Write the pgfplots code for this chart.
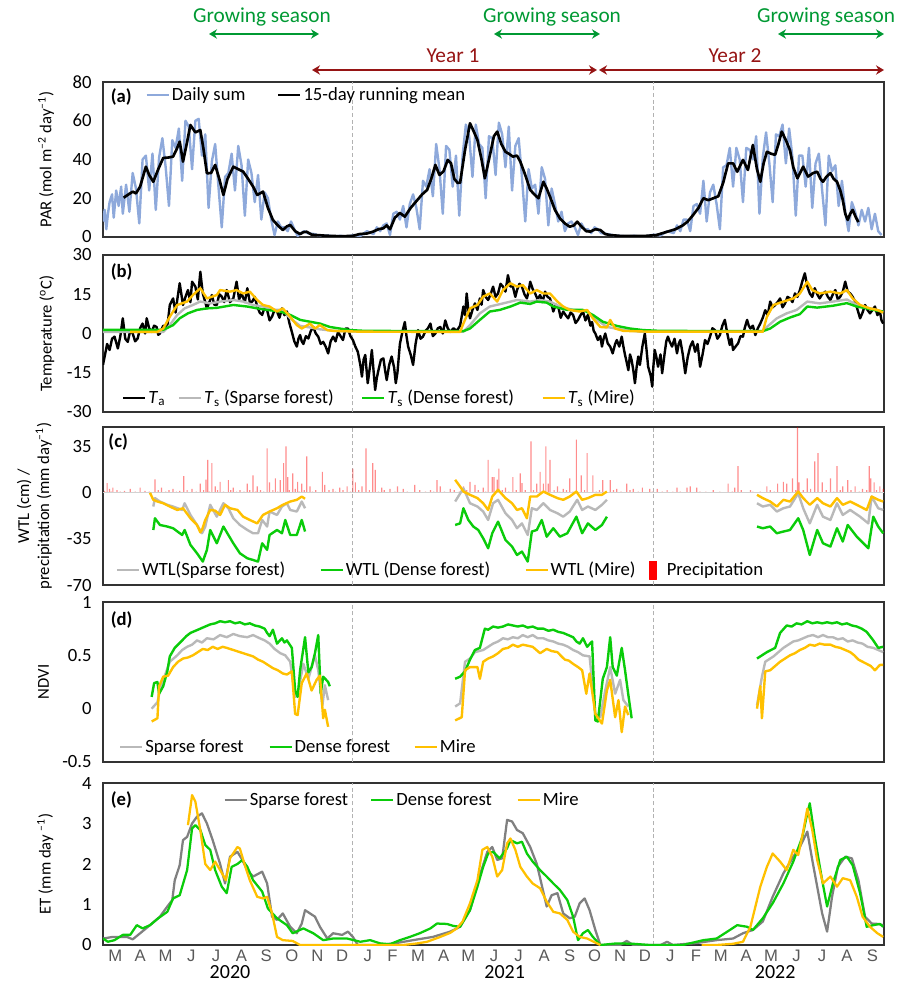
\documentclass[border=0pt]{standalone}
\usepackage{fontspec}
\setmainfont{Carlito}
\newfontfamily\arialfont{Liberation Sans}
\usepackage{pgfplots}
\pgfplotsset{compat=1.18}
\usetikzlibrary{arrows.meta}
\definecolor{parblue}{RGB}{142,169,219}
\definecolor{sparse}{RGB}{185,185,185}
\definecolor{sparsedark}{RGB}{128,128,128}
\definecolor{dense}{RGB}{10,204,10}
\definecolor{mire}{RGB}{255,192,0}
\definecolor{gsgreen}{RGB}{0,153,51}
\definecolor{yrred}{RGB}{150,20,20}
\definecolor{monthgray}{RGB}{89,89,89}
\newcommand{\gap}[1]{\rule{#1}{0pt}}
\tikzset{plabel/.style={font=\bfseries\fontsize{14}{16}\selectfont, anchor=west}}
\pgfplotsset{
  base/.style={
    scale only axis, width=585.75pt, xmin=64, xmax=1011,
    axis line style={black!80, line width=0.8pt},
    tick style={draw=none},
    xtick=\empty,
    unbounded coords=jump,
    yticklabel style={font=\fontsize{14}{16}\selectfont, xshift=-5pt},
    ylabel style={font=\fontsize{12.5}{15}\selectfont, anchor=center, align=center},
    legend style={draw=none, fill=none, legend columns=-1, font=\fontsize{14}{16}\selectfont,
      inner sep=0pt, nodes={inner sep=1.5pt}, anchor=west},
    legend image code/.code={\draw[##1] (0pt,0pt) -- (16.5pt,0pt);},
    every axis plot/.append style={line join=round},
  },
}
\begin{document}
\begin{tikzpicture}
\path[use as bounding box] (-77.25pt,61.5pt) rectangle (606.75pt,-676.5pt);

%% (a) PAR
\begin{axis}[base, at={(0pt,0pt)}, anchor=north west, height=116.25pt,
  ymin=0, ymax=80, ytick={0,20,40,60,80}, yticklabels={0,20,40,60,80},
  ylabel={PAR (mol m\textsuperscript{–2} day\textsuperscript{–1})},
  ylabel style={at={(axis description cs:-0.073,0.5)}},
  legend style={at={(axis description cs:0.054,0.916)}}]
\addplot[forget plot, densely dashed, gray!60, line width=0.5pt] coordinates {(366,0) (366,80)};
\addplot[forget plot, densely dashed, gray!60, line width=0.5pt] coordinates {(731,0) (731,80)};
\addplot[parblue, line width=1.8pt] coordinates {
(64,8)(66,14)(68,4)(70,12)(72,18)(75,22)(77,10)(80,24)(83,16)(86,26)(88,12)(92,27)(96,13)(100,33)(104,25)(108,7)
(112,40)(116,42)(120,24)(124,43)(128,14)(132,41)(136,51)(140,36)(144,16)(148,50)(152,46)(156,56)(160,29)(164,60)
(168,57)(172,35)(176,60)(180,61)(184,42)(188,53)(192,15)(196,39)(200,48)(204,26)(208,5)(212,31)(216,33)(220,43)
(224,24)(228,47)(232,37)(236,11)(240,40)(244,33)(248,18)(252,32)(256,9)(260,23)(264,20)(268,9)(272,1)(276,8)
(280,5)(284,5)(288,3)(292,8)(296,4)(300,0.5)(304,2)(308,3)(312,2)(320,1.5)(328,0.5)(336,0.8)(344,0.3)(352,0.6)
(360,0.2)(368,1)(376,0.5)(384,3)(392,1.5)(396,5)(400,3)(404,6)(408,7)(412,1)(416,12)(420,13)(424,9)(428,16)
(432,5)(436,17)(440,22)(444,15)(448,4)(452,29)(456,26)(460,35)(464,21)(468,48)(472,35)(476,12)(480,47)(484,45)
(488,26)(492,42)(496,11)(500,42)(504,58)(508,52)(512,31)(516,58)(520,48)(524,46)(528,20)(532,52)(536,51)(540,32)
(544,59)(548,53)(552,36)(556,57)(560,24)(564,47)(568,51)(572,31)(576,8)(580,35)(584,25)(588,27)(592,12)(596,36)
(600,30)(604,6)(608,25)(612,17)(616,8)(620,13)(624,3)(628,7)(632,8)(636,5)(640,1)(644,7)(648,4)(652,4)(656,2)
(660,5)(664,4)(668,2)(676,1.5)(684,0.8)(692,0.5)(700,0.3)(708,0.6)(716,0.2)(724,0.5)(732,1.2)(740,0.8)(748,3)
(756,2)(760,6)(764,3)(768,9)(772,9)(776,3)(780,16)(784,17)(788,12)(792,29)(796,8)(800,23)(804,27)(808,17)(812,4)
(816,36)(820,37)(824,46)(828,26)(832,46)(836,40)(840,18)(844,46)(848,45)(852,40)(856,52)(860,12)(864,41)(868,54)
(872,38)(876,18)(880,53)(884,52)(888,58)(892,38)(896,56)(900,41)(904,11)(908,42)(912,42)(916,26)(920,46)(924,15)
(928,38)(932,43)(936,24)(940,6)(944,42)(948,34)(952,37)(956,16)(960,29)(964,13)(968,3)(972,18)(976,13)(980,6)
(984,14)(988,8)(992,15)(996,4)(1000,12)(1004,3)(1008,1)};
\addlegendentry{Daily sum\gap{22pt}}
\addplot[black, line width=2pt] coordinates {
(89,20.3)(95,22)(100,23.4)(104,22.5)(109,26)(116,36.3)(120,32)(125,28.5)(131,35)(137,40.8)(143,41)(149,41.5)
(153,45)(157,49.2)(161,38.9)(165,47)(170,57.8)(176,54)(182,55.2)(186,45)(190,32.9)(195,33)(200,37.2)(205,30)
(210,21.7)(215,30)(222,36.3)(228,35)(234,33.7)(240,30)(246,26)(251,21.7)(258,23.4)(264,15)(270,8.8)(276,6)
(282,3.6)(287,5.5)(291,6.2)(297,3)(303,1.5)(307,2.5)(311,2.7)(317,1.2)(323,1)(333,0.7)(343,0.5)(355,0.4)
(367,0.6)(375,1.5)(384,1.8)(391,2.7)(398,4)(404,4.5)(408,6)(412,4)(418,10)(424,12.4)(430,10.5)(437,15)(445,19)
(451,22)(457,24.3)(462,30)(467,37.2)(472,32)(477,34)(482,39.8)(486,38)(490,30)(494,27.9)(497,28)(503,45)
(509,58.7)(513,55)(518,50.1)(523,40)(527,30.3)(533,42)(538,52)(542,54.4)(547,48)(552,44)(556,43)(561,41.5)
(566,42)(570,38.9)(576,32)(582,24.3)(587,22)(592,20)(598,28.5)(602,25)(606,20.8)(612,14)(618,9.6)(624,7)
(630,5.3)(635,6)(639,7.9)(645,5)(650,3)(655,2.8)(661,4)(667,3.6)(673,1.5)(679,1)(690,0.6)(706,0.5)(720,0.5)
(735,1)(748,2.7)(758,4)(767,6)(773,8)(780,11.6)(786,15)(792,20)(798,19)(804,20)(810,21)(816,28)(822,38)
(828,38)(833,33.7)(840,39.8)(846,34.6)(852,47.5)(857,35)(861,28.5)(865,38)(869,44)(874,43)(879,42.4)(883,48)
(887,54.4)(892,50)(897,44.8)(901,36)(906,30.3)(913,36.3)(919,31.2)(925,33)(930,33.7)(934,30)(937,28.5)(941,31)
(946,33)(950,30)(954,28.5)(958,24)(961,19.1)(964,12)(967,8.8)(970,12)(973,14)(977,10)(980,7.7)};
\addlegendentry{15-day running mean}
\node[plabel] at (rel axis cs:0.004,0.905) {(a)};
\end{axis}

%% (b) Temperature
\begin{axis}[base, at={(0pt,-129.75pt)}, anchor=north west, height=117.75pt,
  ymin=-30, ymax=30, ytick={-30,-15,0,15,30}, yticklabels={-30,-15,0,15,30},
  ylabel={Temperature (\textsuperscript{o}C)},
  ylabel style={at={(axis description cs:-0.072,0.5)}},
  legend style={at={(axis description cs:0.024,0.089)}}]
\addplot[forget plot, densely dashed, gray!60, line width=0.5pt] coordinates {(366,-30) (366,30)};
\addplot[forget plot, densely dashed, gray!60, line width=0.5pt] coordinates {(731,-30) (731,30)};
\addplot[black, line width=1.8pt] coordinates {
(64,-12)(69,-4)(72,-6.3)(75,-2)(78,-1.2)(82,-5.7)(85,-1)(88,5.8)(91,-2)(94,-3.2)(97,1)(100,0)(103,-3)(106,-1.9)
(109,2)(112,3.8)(115,0)(117,5.8)(120,2)(123,0.6)(126,3)(129,2.5)(131,-0.5)(133,0)(137,3)(142,2.5)(145,10.9)
(149,13.4)(152,8)(154,12.8)(157,19.2)(161,10.9)(164,14)(167,16.6)(170,12)(172,19.8)(176,17.9)(179,13)(182,23.6)
(185,15.3)(188,12)(190,9.6)(193,12)(196,14.7)(199,11)(202,10.9)(205,15)(208,14.1)(211,12)(214,16.6)(218,12)
(222,13.4)(226,19.8)(229,13)(232,15.3)(236,12)(239,17.3)(242,12)(245,12.2)(248,14)(251,10.3)(254,8)(257,7.1)
(260,10)(263,9)(266,5)(269,6.5)(272,9)(275,8.4)(278,6)(281,9.6)(284,7)(287,8.4)(290,4)(293,0.6)(296,-3)(299,-5)
(301,-2)(303,-0.6)(305,-3)(307,-4)(310,-1)(313,-1.9)(316,1)(319,2.5)(322,0)(325,-1.2)(328,-4)(331,-3.2)(334,-5)
(337,-7.6)(340,-3)(343,-1.2)(346,-3)(349,0.6)(352,-1)(355,-2.5)(358,1.9)(361,1.9)(364,-1)(367,-2.5)(370,-5)
(373,-7)(376,-12)(378,-16.5)(380,-10)(382,-8.2)(385,-19)(388,-12)(390,-6.3)(392,-14)(394,-21.6)(396,-17)
(398,-14)(401,-10)(404,-9.5)(406,-14)(408,-17.8)(411,-12)(414,-8.8)(417,-13)(419,-19)(421,-15)(424,-4)(427,0.6)
(430,4.4)(432,-1)(434,-5)(437,-8)(440,-12)(443,-4)(446,1.3)(449,-2)(452,-1.2)(455,1)(458,2)(461,3.8)(464,-1)
(467,0)(470,2)(473,2.5)(476,0)(479,5)(482,2)(485,0.6)(489,2)(493,1)(497,3)(501,10.3)(503,7)(505,15.3)(507,9)
(509,5.8)(512,9)(515,11.5)(518,9)(521,13.4)(523,11)(525,16.6)(528,14)(531,12.8)(534,15)(537,17.9)(540,14)
(543,15.3)(546,19)(549,17.9)(552,16)(555,22.3)(558,18)(561,17.9)(564,14)(566,16.6)(569,19)(572,17.9)(575,15)
(578,13.4)(580,16)(582,19.8)(585,17)(588,15.3)(591,13)(594,14.7)(597,12)(600,16)(603,14)(606,13.4)(608,11)
(610,8.4)(613,11)(616,10.3)(619,6)(622,8.4)(625,7)(628,5.8)(631,8)(634,7.1)(637,4)(640,5.2)(643,7)(646,8.4)
(649,5)(652,7.1)(655,3)(657,4.4)(659,1)(661,0)(664,-2.5)(667,-1)(669,-5)(671,-2)(673,0)(676,-3.8)(679,-5)
(682,-7.6)(685,-4)(687,-2.5)(690,-5)(693,-1.2)(695,-5)(697,-8.2)(699,-11)(701,-14)(703,-8)(705,-10.2)(707,-14)
(709,-19)(711,-13)(713,-8.8)(715,-12)(718,-5)(721,0)(723,-6)(725,-12.7)(728,-16)(730,-20.3)(731,-14)(733,-6.3)
(735,-9)(737,-12.7)(740,-8)(742,-15.2)(745,-7.6)(747,-3)(749,-1.2)(751,-3)(754,-5)(757,-2)(760,-7.6)(762,-4)
(764,-2.5)(767,-8)(770,-15.2)(773,-9)(776,-5)(779,-3)(782,-7)(785,-4)(788,-12.7)(791,-8)(794,-2.5)(797,-4)
(800,-1.2)(803,2)(806,1.3)(809,-2)(812,-0.6)(815,3)(818,5.2)(821,0)(824,-4.4)(826,-2)(828,-6.3)(831,-5)
(834,-3.8)(837,-1)(840,-1.2)(842,2)(845,5.2)(847,3)(849,1.9)(852,3)(855,-0.6)(858,2)(861,3.8)(864,6)(867,8.9)
(870,7)(873,12.2)(876,10)(879,10.9)(882,12)(885,13.4)(888,10)(891,11.5)(894,14)(897,13.4)(900,12)(903,15.3)
(906,14)(909,16.6)(912,20)(915,23)(918,18)(921,15.3)(924,14)(927,17.3)(930,15)(933,13.4)(936,15)(940,16)
(943,14)(946,12.8)(949,15)(952,16.6)(955,13)(958,14.1)(961,16)(964,19.8)(967,16)(970,15.3)(973,14)(976,12.2)
(979,9)(982,5.8)(985,8)(988,10.9)(991,9)(994,7.7)(997,9)(1000,10.3)(1003,7)(1006,8.4)(1008,5)(1010,3.8)};
\addlegendentry{\textit{T}\textsubscript{a}\gap{8pt}}
\addplot[sparse, line width=1.8pt] coordinates {
(64,0.6)(137,0.6)(145,3.2)(154,7.1)(163,9.6)(173,10.9)(182,12.2)(194,11.5)(206,12.2)(222,12.8)(234,12.2)
(246,10.9)(258,10.3)(270,9)(282,9)(291,5.8)(303,2.9)(315,2.3)(327,1.6)(345,1)(376,0.7)(501,0.7)(509,3.2)
(521,7.7)(533,10.3)(549,11.5)(566,12.8)(582,12.2)(594,12.8)(606,12.2)(618,10.3)(634,9)(651,8.7)(663,5.2)
(675,2.5)(691,1.6)(715,0.7)(864,0.7)(869,2.5)(881,5.8)(893,7.7)(905,9)(918,12.2)(933,11.5)(949,12.2)(966,13)
(978,10.9)(994,9.6)(1010,8.4)};
\addlegendentry{\textit{T}\textsubscript{s} (Sparse forest)\gap{19pt}}
\addplot[dense, line width=1.8pt] coordinates {
(64,1.4)(137,1.4)(149,3.2)(157,5.8)(167,7.7)(178,9)(190,9.6)(202,9.8)(222,10.9)(239,10.3)(251,9.6)(263,9)
(279,8.4)(291,7.1)(303,5.2)(315,4.5)(327,3.8)(339,2.5)(351,1.9)(364,1.3)(382,1)(501,0.9)(509,1.9)(521,5.2)
(533,8.4)(545,9)(558,10.3)(570,11.8)(582,11.3)(590,12.2)(602,11.8)(610,10.3)(627,9)(646,9)(658,7.1)(670,4.5)
(687,2.9)(703,1.9)(719,1.3)(740,1)(864,0.9)(873,1.9)(885,4.5)(897,6.1)(909,7.4)(918,10.3)(930,9.9)(949,10.6)
(966,11.6)(978,10.3)(990,9.6)(1003,8.7)(1010,8.4)};
\addlegendentry{\textit{T}\textsubscript{s} (Dense forest)\gap{19pt}}
\addplot[mire, line width=1.8pt] coordinates {
(97,0.6)(130,0.6)(137,1.9)(145,6.4)(154,10.9)(166,12.2)(173,14.7)(182,17.3)(190,13.4)(202,14.7)(206,16.6)
(218,16)(226,16.6)(234,15.3)(242,16)(251,12.8)(258,10.9)(266,10.3)(275,8.4)(282,9.6)(291,6.4)(299,3.2)(305,1.9)
(315,3.8)(321,1.9)(327,3.2)(336,1.3)(343,1)(376,0.7)(497,0.6)(501,3.8)(509,9.6)(518,10.9)(525,14.1)(533,15.3)
(542,12.2)(549,16.6)(558,19.2)(566,17.9)(573,18.5)(582,15.3)(590,16.6)(598,15.3)(606,15.3)(615,12.2)(622,10.3)
(630,9)(642,8.4)(651,9)(658,5.8)(667,2.5)(675,2.3)(679,5.2)(685,1.9)(695,1)(727,0.7)(864,0.7)(869,6.4)(877,10.9)
(889,12.2)(901,13.4)(909,15.3)(918,19.8)(924,16.6)(933,15.3)(946,16)(958,15.3)(966,16.6)(973,13.4)(982,10.9)
(994,9.6)(1003,9)(1010,8)};
\addlegendentry{\textit{T}\textsubscript{s} (Mire)}
\node[plabel] at (rel axis cs:0.004,0.89) {(b)};
\end{axis}

%% (c) WTL / precipitation
\begin{axis}[base, at={(0pt,-258.75pt)}, anchor=north west, height=118.5pt,
  ymin=-70, ymax=50, ytick={-70,-35,0,35}, yticklabels={-70,-35,0,35},
  ylabel={WTL (cm) /\\precipitation (mm day\textsuperscript{–1})},
  ylabel style={at={(axis description cs:-0.088,0.5)}},
  legend style={at={(axis description cs:0.016,0.095)}}]
\addplot[forget plot, densely dashed, gray!60, line width=0.5pt] coordinates {(366,-70) (366,50)};
\addplot[forget plot, densely dashed, gray!60, line width=0.5pt] coordinates {(731,-70) (731,50)};
\addplot[forget plot, ybar, bar width=0.9pt, fill=red, draw=none, fill opacity=0.45] coordinates {
(66,1.5)(69,7.4)(72,3)(74,1)(76,4)(81,2)(85,1)(90,1.5)(97,3)(103,1)(109,4)(115,1.5)(120,1)(127,10.2)(131,2)
(135,4)(140,1)(144,2)(149,3)(153,1)(157,1.5)(162,12.7)(166,2)(172,3)(177,1)(182,7)(186,2)(189,10)(191,25)
(193,1)(196,22.5)(200,5)(203,2)(206,8.4)(210,1)(216,9.6)(219,2)(222,4)(226,1)(230,2)(235,1)(239,7)(242,2)
(246,13.3)(249,1)(251,5)(255,2)(259,1)(263,33.8)(266,8)(270,2)(273,10.9)(276,1)(279,9.6)(283,22.5)(286,35.2)
(288,12)(290,2)(294,14.7)(297,3)(300,8.4)(302,1)(305,7)(308,2)(311,27.6)(315,5)(318,1)(322,2)(330,16)(333,6)
(338,2)(343,3)(346,1)(351,4)(355,2)(360,5)(364,1)(367,18.3)(370,8)(374,2)(378,5)(383,33.8)(387,2)(391,22.5)
(394,17.4)(398,1)(402,4)(405,2)(412,3)(418,1)(421,5)(428,3)(433,1)(442,6)(448,2)(455,1)(461,2)(465,1)(469,9.6)
(473,5)(478,1)(485,3)(490,2)(496,1)(501,5)(505,2)(509,8.4)(515,6)(519,2)(525,4)(528,1)(531,25)(536,12)(538,12)
(542,10)(544,18.3)(548,2)(552,4)(556,1)(561,12)(565,2)(570,14.7)(572,7.4)(576,2)(583,39)(586,2)(590,7)(594,16)
(598,7)(601,35.2)(604,7)(606,25)(611,2)(615,5)(618,1)(622,3)(626,2)(630,10.9)(634,1)(638,40.4)(644,13.3)(648,2)
(651,30.1)(658,13.3)(662,1)(666,2)(670,9.6)(674,1)(679,9.6)(683,2)(687,3)(692,1)(699,7)(703,2)(707,3)(713,1)
(718,4)(727,3)(730,1)(736,3)(742,1)(748,2)(755,1)(760,4)(764,1)(772,4)(776,5)(784,4)(788,1)(795,1)(804,2)
(812,1)(822,7)(827,1)(830,4)(834,20.3)(838,2)(849,2)(852,1)(861,1)(869,5)(873,2)(878,1)(882,7)(889,8.4)(893,7)
(900,10.9)(904,2)(906,50)(908,8)(913,2)(918,10.9)(922,3)(927,23.9)(931,30.1)(936,8)(941,2)(946,10.9)(950,1)
(954,20.3)(958,2)(961,5)(967,9.6)(971,2)(976,5)(981,1)(985,3)(990,2)(993,20.3)(995,10.9)(999,8)(1002,2)(1006,5)
(1010,3)};
\addplot[forget plot, gray!35, line width=0.8pt] coordinates {(64,0) (1011,0)};
\addplot[sparse, line width=1.8pt] coordinates {
(125,-10.4)(127,-4)(133,-6.6)(142,-9.1)(149,-10.4)(160,-13)(163,-7.9)(170,-16.8)(178,-24.4)(184,-30.7)
(188,-25.6)(194,-9.1)(202,-18.1)(210,-7.9)(216,-11.7)(222,-19.3)(230,-24.4)(239,-28.2)(246,-30.7)(252,-30.7)
(257,-20.6)(263,-25.6)(266,-14.2)(275,-16.8)(281,-10.4)(287,-7.9)(291,-13)(299,-14.2)(305,-6.6)(309,-11.7)
(400,nan)
(491,-6.6)(501,3.5)(509,-7.9)(518,-10.4)(525,-14.2)(531,-20.6)(537,-7.9)(543,-5.3)(552,-15.5)(560,-20.6)
(566,-26.9)(572,-23.2)(579,-32)(584,-11.7)(590,-13)(598,-7.9)(606,-13)(615,-15.5)(622,-18.1)(630,-14.2)
(639,-5.3)(645,-13)(652,-10.4)(661,-13)(669,-9.1)(675,-5.3)
(760,nan)
(857,-7.9)(864,-10.4)(873,-9.1)(881,-14.2)(889,-11.7)(897,-10.4)(907,-0.3)(913,-11.7)(921,-23.2)(930,-9.1)
(937,-18.1)(946,-20.6)(954,-7.9)(961,-16.8)(970,-13)(982,-18.1)(992,-23.2)(996,-2.8)(1004,-11.7)(1010,-13)};
\addlegendentry{WTL(Sparse forest)\gap{24pt}}
\addplot[dense, line width=1.8pt] coordinates {
(125,-28.2)(127,-19.3)(133,-24.4)(142,-25.6)(149,-26.9)(160,-32)(163,-28.2)(170,-39.5)(178,-45.9)(185,-52.2)
(190,-43.3)(194,-28.2)(202,-38.3)(210,-25.6)(216,-32)(222,-38.3)(230,-45.9)(239,-49.7)(246,-51)(252,-52.2)
(257,-38.3)(263,-43.3)(266,-32)(275,-28.2)(281,-30.7)(285,-20.6)(291,-32)(299,-32)(305,-20.6)(309,-29.4)
(400,nan)
(491,-24.4)(497,-23.2)(501,-11.7)(507,-20.6)(513,-25.6)(519,-28.2)(525,-34.5)(531,-42.1)(536,-30.7)(543,-21.9)
(552,-35.8)(560,-40.8)(566,-47.2)(572,-44.6)(579,-52.2)(584,-29.4)(590,-28.2)(596,-20.6)(602,-33.3)(610,-26.9)
(618,-33.3)(627,-30.7)(638,-18.1)(645,-30.7)(652,-23.2)(661,-28.2)(669,-24.4)(675,-18.1)
(760,nan)
(857,-25.6)(864,-26.9)(873,-25.6)(881,-30.7)(889,-29.4)(897,-28.2)(907,-19.3)(913,-28.2)(921,-47.2)(930,-28.2)
(937,-38.3)(946,-40.8)(954,-26.9)(961,-37)(967,-24.4)(978,-33.3)(992,-42.1)(998,-18.1)(1004,-25.6)(1010,-30.7)};
\addlegendentry{WTL (Dense forest)\gap{24pt}}
\addplot[mire, line width=1.8pt] coordinates {
(121,0)(125,-5.3)(130,-6.6)(137,-7.9)(145,-10.4)(154,-13)(161,-11.7)(170,-19.3)(178,-24.4)(182,-30)(184,-28.2)
(188,-20.6)(194,-13)(200,-13.5)(206,-16.8)(212,-9.1)(218,-11.7)(227,-13)(234,-18.1)(242,-20.6)(251,-23.2)
(258,-16.8)(266,-14.2)(275,-11.7)(282,-9.1)(291,-6.6)(299,-5.3)(305,-2.8)(309,-4.5)
(400,nan)
(491,9.9)(497,4.8)(501,1)(509,-1.5)(518,-4)(525,-7.9)(531,-13)(536,-2.8)(543,2.3)(552,-4)(560,-7.9)(566,-13)
(572,-11.7)(578,-19.3)(582,-2.8)(590,-2.8)(598,1)(606,-1.5)(615,-4)(622,-5.3)(630,-2.8)(638,1)(645,-5.3)
(652,-4)(661,-1.5)(669,-1.5)(675,1)
(760,nan)
(857,-1.5)(864,-4)(873,-6.6)(881,-10.4)(889,-5.3)(897,-6.6)(907,1)(913,-4)(921,-9.1)(930,-4)(937,-7.9)
(946,-10.4)(954,-4)(961,-9.1)(970,-6.6)(978,-9.1)(990,-13)(996,-2.8)(1004,-5.3)(1010,-6.6)};
\addlegendentry{WTL (Mire)\gap{8.5pt}}
\addlegendimage{legend image code/.code={\fill[red] (0pt,-6.75pt) rectangle (5.5pt,6.75pt);}}
\addlegendentry{\gap{6pt}Precipitation}
\node[plabel] at (rel axis cs:0.001,0.905) {(c)};
\end{axis}

%% (d) NDVI
\begin{axis}[base, at={(0pt,-390pt)}, anchor=north west, height=120pt,
  ymin=-0.5, ymax=1, ytick={-0.5,0,0.5,1}, yticklabels={-0.5,0,0.5,1},
  ylabel={NDVI},
  ylabel style={at={(axis description cs:-0.076,0.5)}},
  legend style={at={(axis description cs:0.020,0.094)}}]
\addplot[forget plot, densely dashed, gray!60, line width=0.5pt] coordinates {(366,-0.5) (366,1)};
\addplot[forget plot, densely dashed, gray!60, line width=0.5pt] coordinates {(731,-0.5) (731,1)};
\addplot[sparse, line width=1.8pt] coordinates {
(123,0.0)(130,0.06)(133,0.17)(139,0.31)(145,0.44)(154,0.5)(160,0.55)(166,0.58)(172,0.6)(178,0.64)(184,0.62)
(190,0.66)(198,0.65)(206,0.69)(214,0.67)(222,0.70)(230,0.68)(239,0.67)(246,0.69)(254,0.66)(260,0.64)(266,0.61)
(272,0.56)(279,0.52)(285,0.5)(291,0.44)(297,0.11)(300,0.14)(307,0.42)(313,0.28)(321,0.5)(325,0.36)(330,0.03)
(333,0.22)(337,0.08)
(400,nan)
(491,0.02)(497,0.05)(503,0.44)(509,0.47)(515,0.53)(525,0.55)(531,0.58)(537,0.61)(543,0.63)(549,0.66)(555,0.65)
(561,0.67)(567,0.66)(573,0.69)(579,0.67)(585,0.69)(591,0.66)(598,0.66)(604,0.64)(610,0.63)(616,0.61)(622,0.60)
(628,0.58)(634,0.55)(640,0.53)(646,0.50)(654,0.49)(661,-0.05)(667,-0.08)(673,0.17)(679,0.39)(685,0.14)(691,0.27)
(695,0.08)(701,0.02)
(760,nan)
(857,0.03)(863,0.30)(867,0.44)(877,0.49)(883,0.53)(889,0.57)(895,0.6)(901,0.63)(907,0.64)(913,0.66)(919,0.68)
(925,0.69)(931,0.67)(937,0.69)(943,0.67)(949,0.67)(955,0.65)(961,0.66)(967,0.63)(973,0.64)(979,0.62)(985,0.61)
(991,0.58)(998,0.57)(1004,0.55)(1010,0.53)};
\addlegendentry{Sparse forest\gap{17pt}}
\addplot[dense, line width=1.8pt] coordinates {
(123,0.11)(126,0.24)(130,0.25)(132,0.14)(137,0.21)(142,0.35)(145,0.49)(151,0.57)(160,0.64)(165,0.68)(170,0.71)
(176,0.73)(182,0.75)(188,0.77)(194,0.79)(200,0.80)(206,0.82)(212,0.81)(218,0.82)(224,0.80)(230,0.81)(236,0.79)
(242,0.80)(248,0.78)(254,0.77)(260,0.75)(263,0.71)(266,0.68)(270,0.74)(275,0.61)(281,0.66)(284,0.62)(287,0.64)
(293,0.57)(297,0.17)(300,0.11)(303,0.36)(309,0.67)(313,0.34)(317,0.39)(321,0.52)(325,0.69)(328,0.14)(331,0.30)
(337,0.25)(339,0.21)
(400,nan)
(491,0.28)(497,0.30)(503,0.35)(509,0.46)(515,0.55)(521,0.57)(527,0.75)(531,0.74)(537,0.77)(543,0.76)(549,0.77)
(555,0.79)(561,0.78)(567,0.77)(573,0.78)(579,0.76)(585,0.77)(591,0.75)(598,0.75)(604,0.73)(610,0.74)(616,0.72)
(622,0.71)(628,0.69)(634,0.67)(638,0.63)(642,0.61)(646,0.66)(651,0.58)(657,0.63)(661,-0.11)(664,-0.12)(670,0.28)
(675,0.39)(679,0.67)(682,0.39)(687,0.31)(693,0.57)(697,0.36)(701,0.13)(705,-0.09)
(760,nan)
(857,0.47)(863,0.50)(869,0.53)(879,0.57)(885,0.71)(893,0.78)(899,0.77)(905,0.80)(911,0.79)(918,0.82)(924,0.80)
(930,0.81)(936,0.80)(942,0.81)(948,0.80)(954,0.81)(960,0.79)(966,0.80)(972,0.78)(978,0.77)(984,0.75)(990,0.72)
(998,0.64)(1004,0.57)(1010,0.58)};
\addlegendentry{Dense forest\gap{16pt}}
\addplot[mire, line width=1.8pt] coordinates {
(123,-0.12)(130,-0.09)(132,0.21)(137,0.30)(143,0.31)(149,0.39)(155,0.44)(161,0.47)(167,0.48)(173,0.5)(179,0.53)
(185,0.56)(191,0.55)(197,0.58)(203,0.56)(209,0.58)(214,0.57)(222,0.55)(230,0.53)(238,0.51)(246,0.49)(252,0.46)
(258,0.44)(264,0.41)(270,0.38)(276,0.36)(282,0.33)(287,0.32)(293,0.35)(297,-0.05)(300,-0.06)(305,0.24)(311,0.33)
(317,0.17)(323,0.27)(327,0.31)(331,-0.09)(333,-0.01)(337,-0.17)
(400,nan)
(491,-0.11)(499,-0.08)(503,0.36)(509,0.39)(518,0.39)(521,0.28)(525,0.44)(531,0.47)(537,0.49)(543,0.52)(549,0.56)
(555,0.57)(561,0.60)(567,0.58)(573,0.60)(579,0.59)(585,0.58)(594,0.52)(602,0.56)(608,0.54)(615,0.53)(620,0.49)
(624,0.46)(629,0.45)(634,0.42)(640,0.39)(645,0.36)(650,0.14)(654,0.33)(661,-0.05)(669,-0.14)(675,0.17)(679,0.27)
(685,-0.08)(689,0.08)(693,-0.22)(697,0.02)(701,-0.06)
(760,nan)
(857,0.0)(861,0.21)(863,-0.09)(867,0.35)(873,0.36)(879,0.40)(885,0.44)(891,0.47)(897,0.50)(903,0.52)(909,0.55)
(915,0.57)(921,0.60)(927,0.59)(933,0.61)(939,0.60)(946,0.60)(952,0.58)(958,0.57)(964,0.55)(970,0.53)(975,0.50)
(980,0.46)(985,0.44)(990,0.42)(995,0.40)(1000,0.36)(1006,0.41)(1010,0.41)};
\addlegendentry{Mire}
\node[plabel] at (rel axis cs:0.004,0.89) {(d)};
\end{axis}

%% (e) ET
\begin{axis}[base, at={(0pt,-525.75pt)}, anchor=north west, height=121.5pt,
  ymin=0, ymax=4, ytick={0,1,2,3,4}, yticklabels={0,1,2,3,4},
  ylabel={ET (mm day \textsuperscript{–1})},
  ylabel style={at={(axis description cs:-0.074,0.5)}},
  xtick={79,109,140,171,201,232,262,293,324,354,385,415,446,477,507,538,568,599,630,660,691,721,752,783,813,844,874,905,936,966,997},
  xticklabels={M,A,M,J,J,A,S,O,N,D,J,F,M,A,M,J,J,A,S,O,N,D,J,F,M,A,M,J,J,A,S},
  xticklabel style={font=\arialfont\fontsize{12.5}{15}\selectfont, text=monthgray},
  extra x ticks={218,551,879}, extra x tick labels={2020,2021,2022},
  extra x tick style={xticklabel style={yshift=-12pt, font=\fontsize{15}{17}\selectfont, text=black}},
  legend style={at={(axis description cs:0.154,0.895)}}]
\addplot[forget plot, densely dashed, gray!60, line width=0.5pt] coordinates {(366,0) (366,4)};
\addplot[forget plot, densely dashed, gray!60, line width=0.5pt] coordinates {(731,0) (731,4)};
\addplot[sparsedark, line width=1.7pt] coordinates {
(64,0.16)(76,0.2)(93,0.2)(100,0.14)(109,0.29)(121,0.49)(133,0.70)(142,0.95)(148,1.11)(151,1.6)(157,1.97)
(161,2.59)(166,2.67)(172,3.0)(178,3.17)(184,3.25)(190,3.0)(197,2.59)(206,2.0)(212,1.52)(218,2.18)(227,2.3)
(233,2.1)(239,1.85)(246,1.69)(257,1.81)(263,1.52)(269,0.70)(275,0.62)(282,0.78)(291,0.45)(299,0.29)(305,0.53)
(309,0.86)(315,0.78)(321,0.70)(327,0.45)(336,0.16)(343,0.29)(354,0.25)(361,0.33)(367,0.2)(373,0.0)(400,0.0)
(420,0.05)(440,0.12)(464,0.2)(485,0.33)(497,0.45)(509,0.86)(519,1.6)(530,2.3)(536,2.42)(542,2.1)(548,2.14)
(554,3.09)(560,3.05)(566,2.84)(573,2.76)(582,2.42)(590,2.0)(596,1.48)(602,0.95)(608,1.23)(615,1.28)(622,0.78)
(630,0.66)(636,0.7)(642,1.03)(648,1.15)(654,0.86)(661,0.37)(667,0.0)(691,0.0)(699,0.1)(707,0.0)(740,0.0)
(748,0.08)(755,0.0)(784,0.05)(808,0.12)(828,0.16)(840,0.29)(852,0.37)(864,0.58)(876,1.19)(889,1.77)(901,2.18)
(909,2.42)(918,2.8)(924,2.1)(930,1.44)(936,0.78)(942,0.33)(948,1.19)(955,1.93)(964,2.18)(972,2.14)(980,1.6)
(988,0.70)(996,0.53)(1004,0.52)(1010,0.49)};
\addlegendentry{Sparse forest\gap{15pt}}
\addplot[dense, line width=1.7pt] coordinates {
(64,0.16)(70,0.08)(78,0.12)(88,0.25)(97,0.25)(105,0.49)(112,0.41)(121,0.49)(131,0.66)(142,0.82)(149,1.15)
(157,1.23)(166,1.85)(172,2.88)(176,2.96)(182,2.84)(188,2.47)(194,2.35)(200,1.85)(208,1.44)(214,1.28)(220,1.93)
(227,2.0)(233,2.1)(239,1.93)(246,1.6)(257,1.32)(264,0.9)(275,0.66)(287,0.49)(294,0.29)(307,0.41)(319,0.29)
(331,0.12)(343,0.16)(360,0.16)(376,0.08)(388,0.12)(400,0.04)(412,0.02)(424,0.12)(436,0.2)(448,0.29)(461,0.41)
(469,0.53)(481,0.52)(489,0.47)(497,0.45)(509,0.86)(518,1.44)(525,1.93)(531,2.26)(537,2.3)(545,2.14)(554,2.39)
(558,2.59)(566,2.51)(572,2.55)(578,2.26)(585,2.06)(594,1.85)(602,1.69)(610,1.52)(618,1.36)(627,1.11)(634,0.70)
(640,0.12)(646,0.29)(652,0.37)(658,0.2)(667,0.0)(687,0.04)(707,0.03)(727,0.0)(767,0.0)(792,0.12)(808,0.16)
(821,0.33)(833,0.49)(845,0.45)(852,0.37)(864,0.66)(876,1.03)(889,1.52)(901,2.06)(912,2.67)(918,3.25)(921,3.5)
(927,2.67)(936,1.6)(942,0.95)(949,1.52)(958,2.1)(966,2.18)(973,1.97)(982,1.28)(990,0.45)(998,0.49)(1006,0.52)
(1010,0.45)};
\addlegendentry{Dense forest\gap{17pt}}
\addplot[mire, line width=1.7pt] coordinates {
(167,2.96)(172,3.70)(176,3.54)(182,2.84)(188,2.0)(194,1.85)(200,2.06)(206,1.85)(213,1.6)(218,2.14)(227,2.42)
(230,2.38)(236,1.97)(242,1.6)(251,1.19)(258,1.15)(263,1.19)(269,0.78)(275,0.2)(282,0.12)(294,0.1)(303,0.0)
(350,0.0)(428,0.0)(445,0.04)(457,0.08)(473,0.2)(485,0.3)(493,0.41)(500,0.58)(509,1.03)(518,1.6)(524,2.35)
(530,2.42)(536,2.18)(542,1.69)(548,1.85)(554,2.51)(558,2.63)(564,2.35)(570,1.93)(578,1.69)(585,1.52)(594,1.40)
(602,1.07)(610,0.82)(618,0.78)(627,0.62)(634,0.33)(642,0.2)(651,0.16)(663,0.04)(667,0.0)
(700,nan)
(790,0.0)(808,0.0)(828,0.03)(840,0.08)(849,0.45)(861,1.44)(869,1.93)(876,2.26)(885,2.06)(893,1.85)(901,2.35)
(907,2.22)(913,2.80)(918,3.37)(924,2.84)(930,2.1)(937,1.52)(946,1.69)(954,1.44)(961,1.65)(970,1.6)(978,1.19)
(985,0.70)(994,0.45)(1003,0.29)(1010,0.2)};
\addlegendentry{Mire}
\node[plabel] at (rel axis cs:0.004,0.895) {(e)};
\end{axis}

%% top annotations
\tikzset{dbl/.style={line width=1.8pt, {Stealth[length=6pt,width=7pt]}-{Stealth[length=6pt,width=7pt]}}}
\draw[gsgreen, dbl] (79.5pt,36pt) -- (162pt,36pt);
\draw[gsgreen, dbl] (293.25pt,36pt) -- (372.75pt,36pt);
\draw[gsgreen, dbl] (506.25pt,36pt) -- (585.75pt,36pt);
\node[gsgreen, font=\fontsize{16}{19}\selectfont] at (119.25pt,48.5pt) {Growing season};
\node[gsgreen, font=\fontsize{16}{19}\selectfont] at (336.75pt,48.5pt) {Growing season};
\node[gsgreen, font=\fontsize{16}{19}\selectfont] at (542.25pt,48.5pt) {Growing season};
\draw[yrred, dbl] (156.75pt,9pt) -- (370.5pt,9pt);
\draw[yrred, dbl] (372pt,9pt) -- (585.75pt,9pt);
\node[yrred, font=\fontsize{16}{19}\selectfont] at (262.5pt,19.5pt) {Year 1};
\node[yrred, font=\fontsize{16}{19}\selectfont] at (474pt,19.5pt) {Year 2};
\end{tikzpicture}
\end{document}
